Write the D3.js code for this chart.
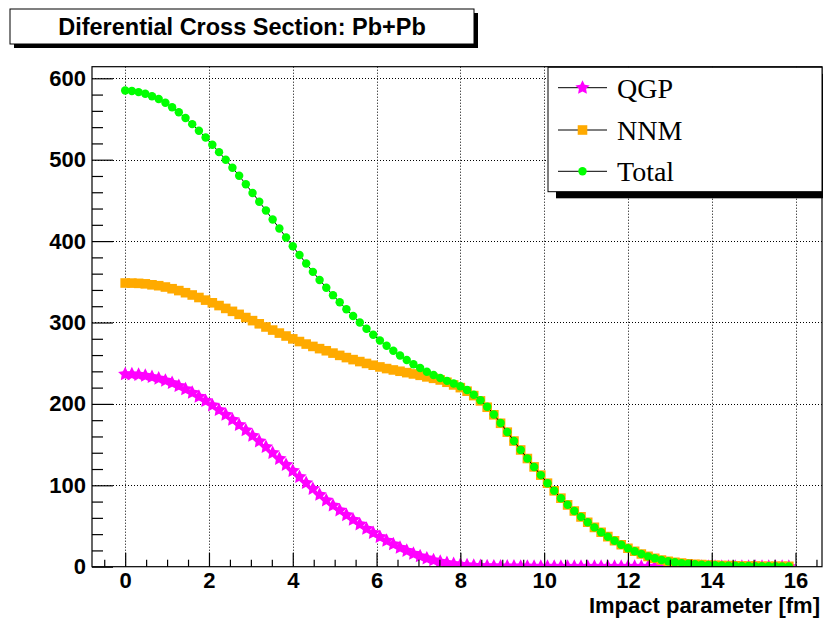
<!DOCTYPE html>
<html>
<head>
<meta charset="utf-8">
<script src="https://cdn.jsdelivr.net/npm/d3@7"></script>
<style>
  body { margin: 0; background: #fff; }
  svg { display: block; }
</style>
</head>
<body>
<svg id="chart" width="823" height="619"></svg>
<script>
// Impact parameter b [fm] of each computed point
const impactParameter = [
  0, 0.16, 0.32, 0.48, 0.64, 0.8, 0.96, 1.12, 1.28, 1.44,
  1.6, 1.76, 1.92, 2.08, 2.24, 2.4, 2.56, 2.72, 2.88, 3.04,
  3.2, 3.36, 3.52, 3.68, 3.84, 4, 4.16, 4.32, 4.48, 4.64,
  4.8, 4.96, 5.12, 5.28, 5.44, 5.6, 5.76, 5.92, 6.08, 6.24,
  6.4, 6.56, 6.72, 6.88, 7.04, 7.2, 7.36, 7.52, 7.68, 7.84,
  8, 8.16, 8.32, 8.48, 8.64, 8.8, 8.96, 9.12, 9.28, 9.44,
  9.6, 9.76, 9.92, 10.08, 10.24, 10.4, 10.56, 10.72, 10.88, 11.04,
  11.2, 11.36, 11.52, 11.68, 11.84, 12, 12.16, 12.32, 12.48, 12.64,
  12.8, 12.96, 13.12, 13.28, 13.44, 13.6, 13.76, 13.92, 14.08, 14.24,
  14.4, 14.56, 14.72, 14.88, 15.04, 15.2, 15.36, 15.52, 15.68, 15.84
];

// dσ/db, QGP contribution
const qgp = [
  236.5, 236.3, 235.7, 234.6, 233.1, 231.1, 228.6, 225.6, 222.1, 218.1,
  213.7, 208.9, 203.7, 198.2, 192.5, 186.6, 180.5, 174.2, 167.7, 160.9,
  154.0, 147.0, 139.8, 132.5, 125.1, 117.7, 110.3, 102.9, 95.6, 88.4,
  81.5, 75.2, 69.2, 63.4, 57.6, 52.0, 46.6, 41.5, 36.6, 32.0,
  27.5, 23.3, 19.5, 16.0, 12.9, 10.2, 7.9, 6.0, 4.5, 3.3,
  2.4, 1.7, 1.2, 0.85, 0.6, 0.42, 0.3, 0.21, 0.15, 0.1,
  0.07, 0.05, 0.04, 0.03, 0.02, 0.015, 0.01, 0.008, 0.006, 0.004,
  0, 0, 0, 0, 0, 0, 0, 0, 0, 0,
  0, 0, 0, 0, 0, 0, 0, 0, 0, 0,
  0, 0, 0, 0, 0, 0, 0, 0, 0, 0
];

// dσ/db, normal nuclear matter contribution
const nnm = [
  348.5, 348.4, 348.1, 347.5, 346.3, 345.2, 343.6, 341.5, 339.2, 336.6,
  333.8, 330.7, 327.5, 324.2, 320.8, 317.3, 313.7, 310.0, 306.1, 302.3,
  298.4, 294.5, 290.7, 287.0, 283.4, 279.9, 276.6, 273.5, 270.6, 267.9,
  265.3, 262.4, 259.6, 256.9, 254.4, 252.0, 249.7, 247.5, 245.4, 243.4,
  241.7, 240.1, 238.4, 236.8, 235.1, 233.2, 231.4, 229.4, 226.6, 223.3,
  220.0, 215.6, 210.2, 203.7, 195.9, 186.6, 176.2, 165.3, 154.4, 143.4,
  132.9, 122.6, 112.5, 102.6, 93.2, 84.2, 76.0, 68.4, 61.2, 54.6,
  48.3, 42.4, 36.9, 31.8, 27.0, 22.7, 18.9, 15.6, 12.7, 10.3,
  8.3, 6.7, 5.4, 4.4, 3.6, 3.0, 2.5, 2.1, 1.8, 1.5,
  1.3, 1.1, 0.95, 0.8, 0.7, 0.6, 0.5, 0.45, 0.4, 0.35
];

// dσ/db, both contributions together
const total = [
  585.0, 584.3, 583.0, 581.0, 578.0, 574.5, 570.0, 564.5, 558.3, 551.3,
  543.7, 535.6, 527.2, 518.4, 509.3, 499.9, 490.2, 480.2, 469.8, 459.2,
  448.4, 437.5, 426.5, 415.5, 404.5, 393.6, 382.9, 372.4, 362.2, 352.3,
  342.8, 333.6, 324.8, 316.3, 308.0, 300.0, 292.3, 285.0, 278.0, 271.4,
  265.2, 259.4, 253.9, 248.8, 244.0, 239.6, 235.6, 231.8, 228.3, 225.0,
  221.6, 217.0, 211.3, 204.5, 196.5, 187.0, 176.5, 165.5, 154.5, 143.5,
  133.0, 122.6, 112.5, 102.6, 93.2, 84.2, 76.0, 68.4, 61.2, 54.6,
  48.3, 42.4, 36.9, 31.8, 27.0, 22.7, 18.9, 15.6, 12.7, 10.3,
  8.3, 6.7, 5.4, 4.4, 3.6, 3.0, 2.5, 2.1, 1.8, 1.5,
  1.3, 1.1, 0.95, 0.8, 0.7, 0.6, 0.5, 0.45, 0.4, 0.35
];

// Axis ticks
const xMajorTicks = [0, 2, 4, 6, 8, 10, 12, 14, 16];
const xMinorTicks = [-0.5, 0.5, 1, 1.5, 2.5, 3, 3.5, 4.5, 5, 5.5, 6.5, 7, 7.5, 8.5, 9, 9.5,
                     10.5, 11, 11.5, 12.5, 13, 13.5, 14.5, 15, 15.5, 16.5];
const yMajorTicks = [0, 100, 200, 300, 400, 500, 600];
const yMinorTicks = [20, 40, 60, 80, 120, 140, 160, 180, 220, 240, 260, 280, 320, 340, 360, 380,
                     420, 440, 460, 480, 520, 540, 560, 580];

const titleText = "Diferential Cross Section: Pb+Pb";
const xTitle = "Impact parameter [fm]";

// Filled five-pointed star, fatter than d3.symbolStar
const fatStar = {
  draw(context, size) {
    const R = Math.sqrt(size) * 0.95, r = R * 0.5;
    for (let k = 0; k < 10; k++) {
      const rad = k % 2 ? r : R;
      const a = -Math.PI / 2 + k * Math.PI / 5;
      const px = rad * Math.cos(a), py = rad * Math.sin(a);
      k ? context.lineTo(px, py) : context.moveTo(px, py);
    }
    context.closePath();
  }
};

const seriesList = [
  { name: "QGP",   values: qgp,   color: "#ff00ff", symbol: fatStar,         size: 62 },
  { name: "NNM",   values: nnm,   color: "#ffaa00", symbol: d3.symbolSquare, size: 92 },
  { name: "Total", values: total, color: "#00ff00", symbol: d3.symbolCircle, size: 56 }
];

const svg = d3.select("#chart");
const sans = "'Liberation Sans', Arial, Helvetica, sans-serif";
const serif = "'Liberation Serif', 'Times New Roman', Times, serif";

svg.append("rect").attr("width", 823).attr("height", 619).attr("fill", "#fff");

const frame = { left: 92, right: 822, top: 66.7, bottom: 566.7 };
const x = d3.scaleLinear().domain([-0.792, 16.632]).range([frame.left, frame.right]);
const y = d3.scaleLinear().domain([0, 614.25]).range([frame.bottom, frame.top]);

// Dotted grid
const grid = svg.append("g")
  .attr("stroke", "#000").attr("stroke-width", 1).attr("stroke-dasharray", "1,2");
grid.selectAll("line.gx").data(xMajorTicks).join("line")
  .attr("x1", d => Math.round(x(d)) + 0.5).attr("x2", d => Math.round(x(d)) + 0.5)
  .attr("y1", frame.top).attr("y2", frame.bottom);
grid.selectAll("line.gy").data(yMajorTicks.filter(v => v > 0)).join("line")
  .attr("x1", frame.left).attr("x2", frame.right)
  .attr("y1", d => Math.round(y(d)) + 0.5).attr("y2", d => Math.round(y(d)) + 0.5);

// Curves, clipped to the frame
svg.append("clipPath").attr("id", "frameClip")
  .append("rect")
  .attr("x", frame.left).attr("y", frame.top)
  .attr("width", frame.right - frame.left).attr("height", frame.bottom - frame.top);

const plot = svg.append("g").attr("clip-path", "url(#frameClip)");
const line = d3.line().x((d, i) => x(impactParameter[i])).y(d => y(d));

seriesList.forEach(s => {
  const g = plot.append("g");
  g.append("path").attr("d", line(s.values))
    .attr("fill", "none").attr("stroke", "#000").attr("stroke-width", 1);
  g.selectAll("path.marker").data(s.values).join("path")
    .attr("class", "marker")
    .attr("d", d3.symbol().type(s.symbol).size(s.size))
    .attr("transform", (d, i) => `translate(${x(impactParameter[i])},${y(d)})`)
    .attr("fill", s.color);
});

// Axes
const xAxis = svg.append("g").attr("transform", `translate(0,${frame.bottom})`)
  .call(d3.axisBottom(x).tickValues(xMajorTicks).tickSize(-14).tickPadding(6).tickFormat(d3.format("d")));
svg.append("g").attr("transform", `translate(0,${frame.bottom})`)
  .call(d3.axisBottom(x).tickValues(xMinorTicks).tickSize(-7).tickFormat(""));
const yAxis = svg.append("g").attr("transform", `translate(${frame.left},0)`)
  .call(d3.axisLeft(y).tickValues(yMajorTicks).tickSize(-21).tickPadding(6).tickFormat(d3.format("d")));
svg.append("g").attr("transform", `translate(${frame.left},0)`)
  .call(d3.axisLeft(y).tickValues(yMinorTicks).tickSize(-11).tickFormat(""));

svg.selectAll(".domain").remove();
svg.selectAll(".tick line").attr("stroke", "#000").attr("stroke-width", 1.2);
[xAxis, yAxis].forEach(a => a.selectAll("text")
  .attr("font-family", sans).attr("font-weight", "bold").attr("font-size", 22).attr("fill", "#000"));

// Frame box
svg.append("rect")
  .attr("x", frame.left).attr("y", frame.top)
  .attr("width", frame.right - frame.left).attr("height", frame.bottom - frame.top)
  .attr("fill", "none").attr("stroke", "#000").attr("stroke-width", 1.2);

// X axis title
svg.append("text").attr("x", 820).attr("y", 613).attr("text-anchor", "end")
  .attr("font-family", sans).attr("font-weight", "bold").attr("font-size", 22)
  .text(xTitle);

// Title box with shadow
svg.append("rect").attr("x", 14).attr("y", 13).attr("width", 464).attr("height", 35).attr("fill", "#000");
svg.append("rect").attr("x", 10).attr("y", 9).attr("width", 464).attr("height", 35)
  .attr("fill", "#fff").attr("stroke", "#000").attr("stroke-width", 1);
svg.append("text").attr("x", 242).attr("y", 35).attr("text-anchor", "middle")
  .attr("font-family", sans).attr("font-weight", "bold").attr("font-size", 23.5)
  .text(titleText);

// Legend with shadow
const lg = { x: 548, y: 67.3, w: 274, h: 124.4 };
svg.append("rect").attr("x", lg.x + 8).attr("y", lg.y + 6.6).attr("width", lg.w).attr("height", lg.h).attr("fill", "#000");
svg.append("rect").attr("x", lg.x).attr("y", lg.y).attr("width", lg.w).attr("height", lg.h)
  .attr("fill", "#fff").attr("stroke", "#000").attr("stroke-width", 1);
const rowY = [87.7, 130, 171.3];
seriesList.forEach((s, k) => {
  const g = svg.append("g").attr("transform", `translate(0,${rowY[k]})`);
  g.append("line").attr("x1", 558).attr("x2", 607).attr("y1", 0).attr("y2", 0)
    .attr("stroke", "#000").attr("stroke-width", 1);
  g.append("path").attr("d", d3.symbol().type(s.symbol).size(s.size))
    .attr("transform", "translate(582.5,0)").attr("fill", s.color);
  g.append("text").attr("x", 617).attr("y", 10)
    .attr("font-family", serif).attr("font-size", 28).text(s.name);
});
</script>
</body>
</html>
